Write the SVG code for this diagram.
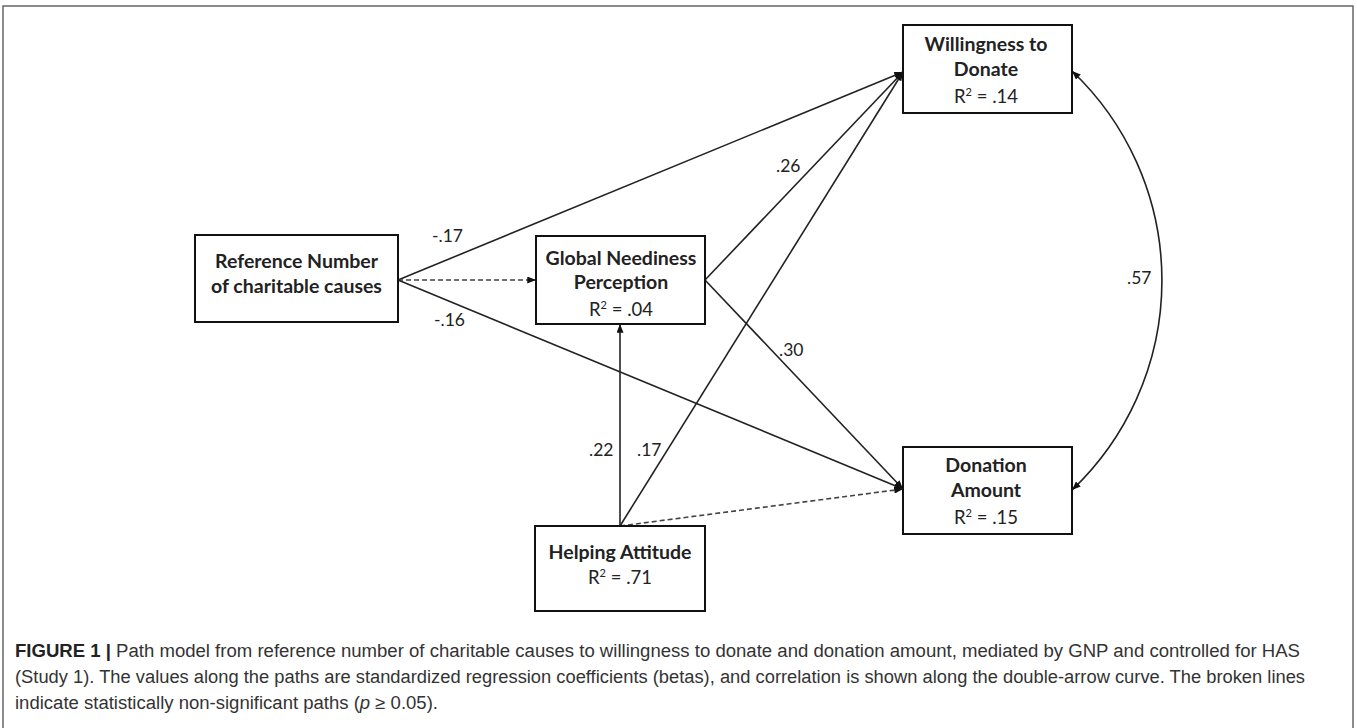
<svg xmlns="http://www.w3.org/2000/svg" width="1357" height="728" viewBox="0 0 1357 728">
<style>
.frame{fill:none;stroke:#666;stroke-width:1.5}
.box{fill:#fff;stroke:#111;stroke-width:2}
.t{font-family:Lato,"Liberation Sans",sans-serif;font-size:18.5px;fill:#222;text-anchor:middle}
.b{font-weight:bold;font-size:19.5px}
.lbl{font-family:Lato,"Liberation Sans",sans-serif;font-size:17.5px;fill:#222}
.ln{fill:none;stroke:#222;stroke-width:1.6}
.dash{fill:none;stroke:#444;stroke-width:1.6;stroke-dasharray:5 3}
.cap{font-family:"Liberation Sans Narrow","Liberation Sans",sans-serif;font-size:18px;fill:#333}
</style>
<defs>
<marker id="ah" viewBox="0 0 10 8" refX="10" refY="4" markerWidth="9" markerHeight="7" markerUnits="userSpaceOnUse" orient="auto-start-reverse">
<path d="M0,0 L10,4 L0,8 Z" fill="#111"/>
</marker>
</defs>
<rect x="3" y="6" width="1350" height="740" class="frame"/>
<g id="connectors">
<path class="ln" d="M398,280 L903,72" marker-end="url(#ah)"/>
<path class="dash" d="M398,280 L536,280" marker-end="url(#ah)"/>
<path class="ln" d="M398,280 L903,489" marker-end="url(#ah)"/>
<path class="ln" d="M705,280 L903,72" marker-end="url(#ah)"/>
<path class="ln" d="M705,280 L903,489" marker-end="url(#ah)"/>
<path class="ln" d="M620,526 L620,324" marker-end="url(#ah)"/>
<path class="ln" d="M620,526 L903,72" marker-end="url(#ah)"/>
<path class="dash" d="M620,526 L903,489" marker-end="url(#ah)"/>
<path class="ln" d="M1072,71 A289,289 0 0 1 1072,490" marker-start="url(#ah)" marker-end="url(#ah)"/>
<text class="lbl" x="432" y="242">-.17</text>
<text class="lbl" x="434" y="326">-.16</text>
<text class="lbl" x="776" y="172">.26</text>
<text class="lbl" x="779" y="356">.30</text>
<text class="lbl" x="1127" y="284">.57</text>
<text class="lbl" x="589" y="456">.22</text>
<text class="lbl" x="637" y="456">.17</text>
</g>
<g id="node-reference">
<rect class="box" x="195" y="235" width="203" height="87"/>
<text class="t b" x="296.5" y="268">Reference Number</text>
<text class="t b" x="296.5" y="293">of charitable causes</text>
</g>
<g id="node-gnp">
<rect class="box" x="536" y="236" width="169" height="88"/>
<text class="t b" x="621" y="265">Global Neediness</text>
<text class="t b" x="621" y="289">Perception</text>
<text class="t" x="621" y="316">R<tspan font-size="11" dy="-7">2</tspan><tspan dy="7"> = .04</tspan></text>
</g>
<g id="node-wtd">
<rect class="box" x="903" y="25" width="169" height="88"/>
<text class="t b" x="986" y="51">Willingness to</text>
<text class="t b" x="986" y="76">Donate</text>
<text class="t" x="986" y="103">R<tspan font-size="11" dy="-7">2</tspan><tspan dy="7"> = .14</tspan></text>
</g>
<g id="node-donation">
<rect class="box" x="903" y="447" width="169" height="87"/>
<text class="t b" x="986" y="472">Donation</text>
<text class="t b" x="986" y="497">Amount</text>
<text class="t" x="986" y="524">R<tspan font-size="11" dy="-7">2</tspan><tspan dy="7"> = .15</tspan></text>
</g>
<g id="node-helping">
<rect class="box" x="535" y="526" width="170" height="85"/>
<text class="t b" x="620" y="559">Helping Attitude</text>
<text class="t" x="620" y="584">R<tspan font-size="11" dy="-7">2</tspan><tspan dy="7"> = .71</tspan></text>
</g>
<g id="caption">
<text class="cap" x="15" y="657" textLength="1285" lengthAdjust="spacingAndGlyphs"><tspan font-weight="bold" fill="#222">FIGURE 1 |</tspan> Path model from reference number of charitable causes to willingness to donate and donation amount, mediated by GNP and controlled for HAS</text>
<text class="cap" x="15" y="683" textLength="1290" lengthAdjust="spacingAndGlyphs">(Study 1). The values along the paths are standardized regression coefficients (betas), and correlation is shown along the double-arrow curve. The broken lines</text>
<text class="cap" x="15" y="709" textLength="423" lengthAdjust="spacingAndGlyphs">indicate statistically non-significant paths (<tspan font-style="italic">p</tspan> ≥ 0.05).</text>
</g>
</svg>
